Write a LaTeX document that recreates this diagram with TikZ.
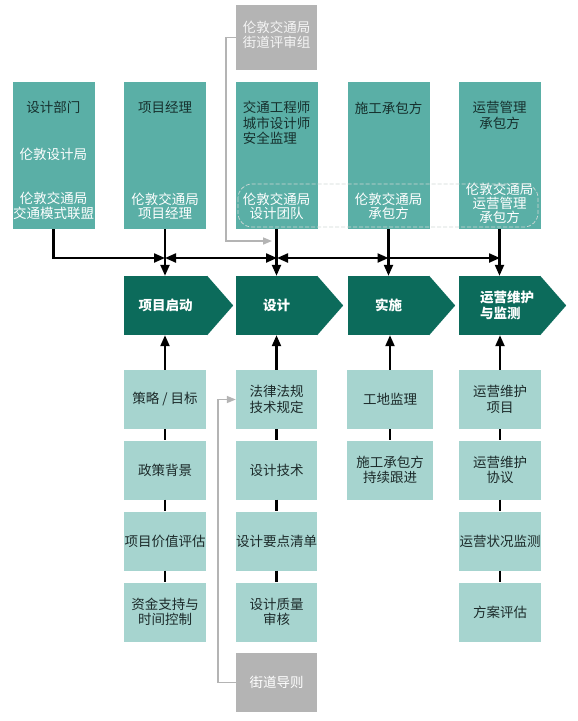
\documentclass[tikz,border=0pt]{standalone}
\usepackage{fontspec}
\setmainfont{Noto Sans CJK SC}
\usetikzlibrary{arrows.meta}
\definecolor{topc}{HTML}{5AAFA6}
\definecolor{chev}{HTML}{0C6B5B}
\definecolor{botc}{HTML}{A6D4CF}
\definecolor{grayb}{HTML}{B4B4B4}
\definecolor{darktxt}{HTML}{16302D}
\definecolor{bottxt}{HTML}{1C2A2A}
\definecolor{dashc}{HTML}{CFD8D6}
\newcommand\fsz{\fontsize{13.5pt}{15.5pt}\selectfont}
\newcommand\fszt{\fontsize{13.5pt}{14.3pt}\selectfont}
\begin{document}
\begin{tikzpicture}[x=1pt,y=-1pt,
  topbox/.style={fill=topc, minimum width=82pt, minimum height=147pt, inner sep=0pt},
  graybox/.style={fill=grayb, minimum width=81pt, inner sep=0pt, text=white, font=\fsz, align=center},
  chevbox/.style={fill=chev, minimum width=81pt, minimum height=59pt, inner sep=0pt, text=white, font=\fsz\bfseries, align=center},
  botbox/.style={fill=botc, minimum width=82pt, minimum height=59pt, inner sep=0pt, text=bottxt, font=\fsz, align=center},
  dk/.style={text=darktxt, font=\fsz, align=center, inner sep=0pt},
  wt/.style={text=white, font=\fszt, align=center, inner sep=0pt},
  conn/.style={line width=2.2pt, black},
  arr/.style={conn, -{Triangle[length=11pt,width=9pt]}},
  barr/.style={conn, {Triangle[length=11pt,width=9pt]}-{Triangle[length=11pt,width=9pt]}},
  garr/.style={line width=1.6pt, draw=grayb, -{Triangle[length=9pt,width=7pt]}},
  dashrect/.style={draw=dashc, line width=0.7pt, dash pattern=on 4pt off 2pt, rounded corners=14pt}
]
\fill[white] (0,0) rectangle (578,721);
\useasboundingbox (0,0) rectangle (578,721);

% top gray box
\node[graybox, minimum height=65pt] (g1) at (276.5,37.5) {};
\node[text=white!92!gray, font=\fsz, align=left, inner sep=0pt] (g1t) at (276.5,35) {伦敦交通局\\街道评审组};

% top boxes
\node[topbox] (t1) at (53.5,155.5) {};
\node[topbox] (t2) at (165,155.5) {};
\node[topbox] (t3) at (276.5,155.5) {};
\node[topbox] (t4) at (388.5,155.5) {};
\node[topbox] (t5) at (499.5,155.5) {};

\node[dk] (t1a) at (53.5,107) {设计部门};
\node[wt] (t1b) at (53.5,154) {伦敦设计局};
\node[wt] (t1c) at (53.5,206) {伦敦交通局\\交通模式联盟};

\node[dk] (t2a) at (165,107) {项目经理};
\node[wt] (t2c) at (165,206) {伦敦交通局\\项目经理};

\node[dk, align=left] (t3a) at (276.5,123) {交通工程师\\城市设计师\\安全监理};
\node[wt] (t3c) at (276.5,206) {伦敦交通局\\设计团队};

\node[dk] (t4a) at (388.5,108) {施工承包方};
\node[wt] (t4c) at (388.5,206) {伦敦交通局\\承包方};

\node[dk] (t5a) at (499.5,115.5) {运营管理\\承包方};
\node[wt] (t5c) at (499.5,203.5) {伦敦交通局\\运营管理\\承包方};

\draw[dashrect] (238,184) rectangle (538,227);

% chevrons
\node[chevbox, minimum width=83pt] (c1) at (165.5,305.5) {项目启动};
\node[chevbox] (c2) at (276.5,305.5) {设计};
\node[chevbox] (c3) at (388.5,305.5) {实施};
\node[chevbox, align=left, text width=81pt] (c4) at (499.5,305.5) {\hspace*{21pt}运营维护\\\hspace*{21pt}与监测};
\foreach \c in {c1,c2,c3,c4}{
  \fill[chev] (\c.north east) -- ([xshift=26pt]\c.east) -- (\c.south east) -- cycle;
}

% bottom boxes
\node[botbox] (b11) at (165,399.5) {策略 / 目标};
\node[botbox] (b12) at (165,470) {政策背景};
\node[botbox] (b13) at (165,541) {项目价值评估};
\node[botbox] (b14) at (165,612) {资金支持与\\时间控制};

\node[botbox, minimum width=81pt] (b21) at (276.5,399.5) {法律法规\\技术规定};
\node[botbox, minimum width=81pt] (b22) at (276.5,470) {设计技术};
\node[botbox, minimum width=81pt] (b23) at (276.5,541) {设计要点清单};
\node[botbox, minimum width=81pt] (b24) at (276.5,612) {设计质量\\审核};
\node[graybox, minimum height=59pt] (gb) at (276.5,682.5) {街道导则};

\node[botbox, minimum width=86pt] (b31) at (390,399.5) {工地监理};
\node[botbox, minimum width=86pt] (b32) at (390,470) {施工承包方\\持续跟进};

\node[botbox] (b41) at (500,399.5) {运营维护\\项目};
\node[botbox] (b42) at (500,470) {运营维护\\协议};
\node[botbox] (b43) at (500,541) {运营状况监测};
\node[botbox] (b44) at (500,612) {方案评估};

% horizontal bus
\coordinate (h2) at (165,258);
\coordinate (h3) at (277,258);
\coordinate (h4) at (388.5,258);
\coordinate (h5) at (500,258);
\draw[arr] (t1.south) |- (h2);
\draw[barr] (h2) -- (h3);
\draw[barr] (h3) -- (h4);
\draw[arr] (h4) -- (h5);

\draw[arr] (t2.south) -- (t2.south |- c1.north);
\draw[arr] (t3.south) -- (t3.south |- c2.north);
\draw[arr] (t4.south) -- (t4.south |- c3.north);
\draw[arr] (t5.south) -- (t5.south |- c4.north);

% bottom up arrows
\draw[arr] (b11.north) -- (b11.north |- c1.south);
\draw[arr] (b21.north) -- (b21.north |- c2.south);
\draw[arr] (b31.north) -- (b31.north |- c3.south);
\draw[arr] (b41.north) -- (b41.north |- c4.south);

\draw[conn] (b11.south) -- (b12.north);
\draw[conn] (b12.south) -- (b13.north);
\draw[conn] (b13.south) -- (b14.north);
\draw[conn] (b21.south) -- (b22.north);
\draw[conn] (b22.south) -- (b23.north);
\draw[conn] (b23.south) -- (b24.north);
\draw[conn] (b31.south) -- (b32.north);
\draw[conn] (b41.south) -- (b42.north);
\draw[conn] (b42.south) -- (b43.north);
\draw[conn] (b43.south) -- (b44.north);

% gray arrows
\coordinate (gt) at (272,241);
\draw[garr] (g1.west) -- ++(-10,0) |- (gt);
\draw[garr] (gb.west) -- ++(-18,0) |- (b21.west);
\end{tikzpicture}
\end{document}
